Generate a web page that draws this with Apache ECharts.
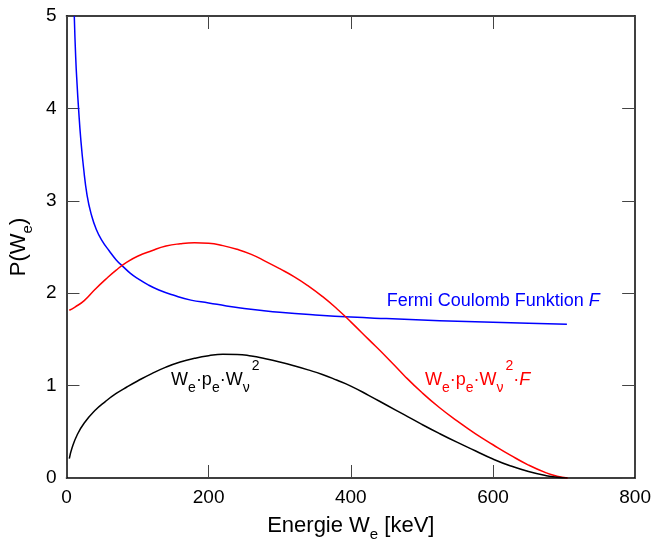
<!DOCTYPE html>
<html>
<head>
<meta charset="utf-8">
<script src="https://cdn.jsdelivr.net/npm/echarts@6/dist/echarts.min.js"></script>
<style>
  html, body { margin: 0; padding: 0; background: #fff; }
  #chart { width: 654px; height: 547px; }
</style>
</head>
<body>
<div id="chart"></div>
<script>
// Energy axis ticks
const xTicks = [0, 200, 400, 600, 800];
const yTicks = [0, 1, 2, 3, 4, 5];

// We·pe·Wν² (black)
const phaseX = [4, 8, 15, 25, 40, 55, 70, 85, 100, 120, 140, 160, 180, 200, 220, 240, 260, 280, 300, 320, 340, 360, 380, 400, 425, 450, 475, 500, 525, 550, 575, 600, 625, 650, 675, 690, 705];
const phaseY = [0.21, 0.33, 0.465, 0.595, 0.73, 0.83, 0.915, 0.985, 1.05, 1.13, 1.20, 1.255, 1.295, 1.323, 1.338, 1.337, 1.32, 1.29, 1.255, 1.215, 1.17, 1.12, 1.06, 0.995, 0.895, 0.79, 0.685, 0.58, 0.48, 0.385, 0.295, 0.205, 0.13, 0.07, 0.025, 0.008, 0];

// We·pe·Wν²·F (red)
const spectrumX = [4, 12, 25, 40, 55, 70, 85, 100, 120, 140, 160, 180, 200, 220, 240, 260, 280, 300, 320, 340, 360, 380, 400, 425, 450, 475, 500, 525, 550, 575, 600, 625, 650, 675, 690, 705];
const spectrumY = [1.815, 1.85, 1.92, 2.04, 2.15, 2.25, 2.335, 2.40, 2.46, 2.51, 2.535, 2.545, 2.54, 2.515, 2.475, 2.42, 2.345, 2.265, 2.18, 2.08, 1.965, 1.835, 1.69, 1.50, 1.31, 1.11, 0.925, 0.76, 0.615, 0.48, 0.36, 0.245, 0.14, 0.055, 0.02, 0];

// Fermi Coulomb function F (blue)
const fermiX = [11, 13, 15, 17, 20, 24, 29, 35, 42, 50, 60, 70, 80, 90, 100, 115, 130, 150, 175, 200, 225, 250, 275, 300, 350, 400, 450, 500, 550, 600, 650, 704];
const fermiY = [5.0, 4.55, 4.25, 4.0, 3.68, 3.36, 3.06, 2.85, 2.69, 2.57, 2.46, 2.36, 2.285, 2.215, 2.16, 2.09, 2.035, 1.98, 1.925, 1.895, 1.862, 1.835, 1.812, 1.793, 1.765, 1.742, 1.725, 1.71, 1.697, 1.686, 1.676, 1.665];

// Annotation anchors (data coordinates, top-left of the text box)
const fermiLabelAt = [450.6, 2.17];
const spectrumLabelAt = [504.4, 1.323];
const phaseLabelAt = [147.2, 1.321];

const zip = (xs, ys) => xs.map((x, i) => [x, ys[i]]);
const FONT = 'Liberation Sans, Arial, Helvetica, sans-serif';

function richStyles(color) {
  return {
    n: { fontSize: 18, fontFamily: FONT, color: color, verticalAlign: 'top', padding: [15, 0, 0, 0] },
    s: { fontSize: 14, fontFamily: FONT, color: color, verticalAlign: 'top', padding: [25, 0, 0, 0] },
    p: { fontSize: 14, fontFamily: FONT, color: color, verticalAlign: 'top', padding: [3, 0, 0, 2] },
    i: { fontSize: 18, fontFamily: FONT, color: color, fontStyle: 'italic', verticalAlign: 'top', padding: [15, 0, 0, 0] }
  };
}

function annot(coord, text, rich, color) {
  return {
    symbol: 'circle', symbolSize: 0, silent: true,
    data: [{ coord: coord, value: 0 }],
    label: {
      show: true, position: [0, 0], align: 'left', verticalAlign: 'top',
      formatter: text, color: color, fontFamily: FONT, fontSize: 18, rich: rich
    }
  };
}

const chart = echarts.init(document.getElementById('chart'), null, { renderer: 'canvas' });

const axisCommon = {
  type: 'value', min: 0,
  axisLine: { show: true, onZero: false, lineStyle: { color: '#000', width: 1.5 } },
  axisTick: { show: true, inside: true, length: 13, lineStyle: { color: '#444', width: 1 } },
  splitLine: { show: false }
};

const option = {
  backgroundColor: '#fff',
  animation: false,
  grid: { left: 66, right: 8, top: 16, bottom: 64, containLabel: false },
  xAxis: [
    Object.assign({}, axisCommon, {
      position: 'bottom', max: xTicks[xTicks.length - 1], interval: 200,
      axisLabel: { show: true, fontSize: 19, fontFamily: FONT, color: '#000', margin: 10 },
      name: '{n|Energie W}{s|e}{n| [keV]}',
      nameLocation: 'middle', nameGap: 37,
      nameTextStyle: {
        fontFamily: FONT, color: '#000',
        rich: {
          n: { fontSize: 22, fontFamily: FONT, color: '#000', verticalAlign: 'top', padding: [0, 0, 0, 0] },
          s: { fontSize: 15, fontFamily: FONT, color: '#000', verticalAlign: 'top', padding: [12, 0, 0, 0] }
        }
      }
    }),
    Object.assign({}, axisCommon, {
      position: 'top', max: xTicks[xTicks.length - 1], interval: 200,
      axisLabel: { show: false }
    })
  ],
  yAxis: [
    Object.assign({}, axisCommon, {
      position: 'left', max: yTicks[yTicks.length - 1], interval: 1,
      axisLabel: { show: true, fontSize: 19, fontFamily: FONT, color: '#000', margin: 10 },
      name: '{n|P(W}{s|e}{n|)}',
      nameLocation: 'middle', nameGap: 27,
      nameTextStyle: {
        fontFamily: FONT, color: '#000',
        rich: {
          n: { fontSize: 22, fontFamily: FONT, color: '#000', verticalAlign: 'top', padding: [0, 0, 0, 0] },
          s: { fontSize: 15, fontFamily: FONT, color: '#000', verticalAlign: 'top', padding: [12, 0, 0, 0] }
        }
      }
    }),
    Object.assign({}, axisCommon, {
      position: 'right', max: yTicks[yTicks.length - 1], interval: 1,
      axisLabel: { show: false }
    })
  ],
  series: [
    {
      name: 'Fermi', type: 'line', data: zip(fermiX, fermiY),
      showSymbol: false, smooth: 0.5, clip: true,
      lineStyle: { color: '#0000ff', width: 1.5 },
      markPoint: annot(fermiLabelAt, '{n|Fermi Coulomb Funktion }{i|F}', richStyles('#0000ff'), '#0000ff')
    },
    {
      name: 'Spectrum', type: 'line', data: zip(spectrumX, spectrumY),
      showSymbol: false, smooth: 0.5, clip: true,
      lineStyle: { color: '#ff0000', width: 1.5 },
      markPoint: annot(spectrumLabelAt, '{n|W}{s|e}{n|·p}{s|e}{n|·W}{s|ν}{p|2}{n|·}{i|F}', richStyles('#ff0000'), '#ff0000')
    },
    {
      name: 'Phase', type: 'line', data: zip(phaseX, phaseY),
      showSymbol: false, smooth: 0.5, clip: true,
      lineStyle: { color: '#000000', width: 1.5 },
      markPoint: annot(phaseLabelAt, '{n|W}{s|e}{n|·p}{s|e}{n|·W}{s|ν}{p|2}', richStyles('#000000'), '#000000')
    }
  ]
};

chart.setOption(option);
</script>
</body>
</html>
